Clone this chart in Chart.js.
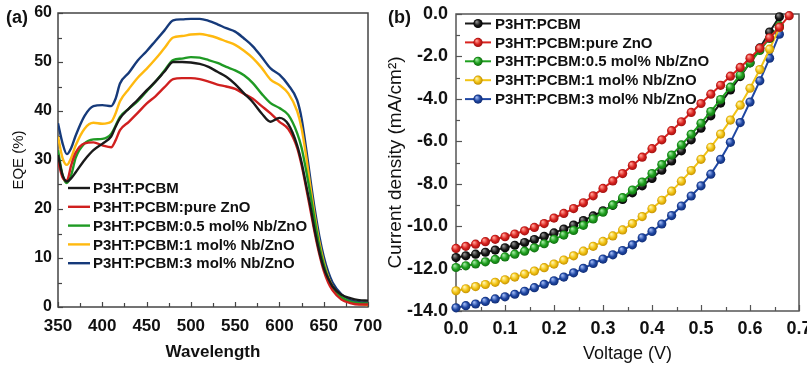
<!DOCTYPE html>
<html><head><meta charset="utf-8">
<script src="https://cdn.jsdelivr.net/npm/chart.js@4.4.1/dist/chart.umd.min.js"></script>
<style>
html,body{margin:0;padding:0;background:#fff;width:807px;height:367px;overflow:hidden;}
#wa{position:absolute;left:0;top:0;width:400px;height:367px;}
#wb{position:absolute;left:375px;top:0;width:432px;height:367px;}
.tag{position:absolute;font:bold 18px "Liberation Sans",Arial,sans-serif;color:#111;line-height:20px;}
</style></head><body>
<div id="wa"><canvas id="ca" width="400" height="367"></canvas></div>
<div id="wb"><canvas id="cb" width="432" height="367"></canvas></div>
<div class="tag" style="left:6px;top:7px">(a)</div>
<div class="tag" style="left:388px;top:7px">(b)</div>
<script>
// ---------- data ----------
const seriesLabels = ['P3HT:PCBM','P3HT:PCBM:pure ZnO','P3HT:PCBM:0.5 mol% Nb/ZnO','P3HT:PCBM:1 mol% Nb/ZnO','P3HT:PCBM:3 mol% Nb/ZnO'];

// (a) EQE vs wavelength
const wavelengths = [350,355,360,365,370,380,390,400,410,415,420,430,440,450,460,470,480,490,500,510,520,530,540,550,560,570,580,590,600,610,620,625,630,635,640,645,650,655,660,670,680,690,700];
const eqeRef  = [31.0,27.0,25.6,26.3,27.5,30.0,32.0,33.3,34.8,36.8,38.5,40.5,42.3,44.2,46.0,48.0,50.0,50.0,49.9,49.6,49.0,48.0,47.0,45.5,43.6,41.8,39.5,37.8,38.6,37.3,33.0,29.5,25.0,20.5,15.5,11.3,8.0,5.8,4.2,2.5,1.8,1.4,1.3];
const eqePure = [29.8,26.5,25.8,29.0,31.5,33.4,33.6,33.0,32.6,34.0,36.1,37.8,39.6,41.5,43.0,44.8,46.5,46.7,46.7,46.5,46.0,45.4,45.0,44.5,43.5,42.5,41.0,39.5,37.8,36.3,32.5,29.0,24.5,19.8,15.0,10.8,7.4,5.0,3.4,1.5,0.8,0.5,0.5];
const eqe05   = [32.0,27.0,25.3,27.0,30.5,33.4,34.2,34.3,35.3,37.0,38.8,40.5,42.0,44.0,46.0,48.2,50.4,50.7,51.0,50.9,50.4,49.8,49.0,48.3,47.3,45.7,43.5,41.6,40.6,39.2,35.5,32.5,28.0,23.0,17.5,12.5,8.7,5.9,4.0,2.0,1.1,0.8,0.7];
const eqe1    = [34.8,30.5,29.0,30.5,33.0,36.4,37.6,37.4,37.8,39.5,42.0,44.5,46.8,48.6,50.6,52.8,55.0,55.3,55.6,55.7,55.4,54.9,54.2,53.5,52.3,50.8,48.8,46.4,45.3,43.6,40.0,36.5,31.0,24.5,18.5,13.3,9.2,6.2,4.2,2.0,1.0,0.6,0.4];
const eqe3    = [37.5,33.5,31.2,32.5,35.0,39.0,41.0,41.2,41.0,42.5,45.6,47.8,50.3,52.2,54.3,56.4,58.5,58.7,58.8,58.8,58.4,57.7,56.9,56.2,54.8,53.2,51.0,48.7,47.4,45.3,42.2,38.5,32.5,26.0,19.8,14.5,10.3,7.2,5.0,2.6,1.4,1.0,0.9];
const eqeTicksX = [350,700,50];
const eqeTicksY = [0,60,10];

// (b) J-V curves
const voltages     = [0.00,0.02,0.04,0.06,0.08,0.10,0.12,0.14,0.16,0.18,0.20,0.22,0.24,0.26,0.28,0.30,0.32,0.34,0.36,0.38,0.40,0.42,0.44,0.46,0.48,0.50,0.52,0.54,0.56,0.58,0.60,0.62,0.64,0.66];
const voltagesPure = [0.00,0.02,0.04,0.06,0.08,0.10,0.12,0.14,0.16,0.18,0.20,0.22,0.24,0.26,0.28,0.30,0.32,0.34,0.36,0.38,0.40,0.42,0.44,0.46,0.48,0.50,0.52,0.54,0.56,0.58,0.60,0.62,0.64,0.66,0.68];
const jRef  = [-11.48,-11.40,-11.32,-11.23,-11.13,-11.02,-10.90,-10.77,-10.63,-10.48,-10.32,-10.14,-9.95,-9.74,-9.52,-9.28,-9.02,-8.74,-8.43,-8.10,-7.75,-7.36,-6.93,-6.45,-5.93,-5.38,-4.80,-4.20,-3.58,-2.95,-2.30,-1.60,-0.85,-0.13];
const jPure = [-11.05,-10.95,-10.85,-10.73,-10.62,-10.50,-10.37,-10.22,-10.06,-9.88,-9.62,-9.40,-9.17,-8.90,-8.57,-8.22,-7.87,-7.52,-7.14,-6.75,-6.35,-5.93,-5.50,-5.08,-4.64,-4.22,-3.78,-3.36,-2.93,-2.52,-2.08,-1.62,-1.12,-0.62,-0.08];
const j05   = [-11.95,-11.87,-11.78,-11.68,-11.57,-11.45,-11.32,-11.18,-11.02,-10.83,-10.62,-10.42,-10.20,-9.96,-9.66,-9.34,-9.00,-8.66,-8.30,-7.92,-7.52,-7.10,-6.65,-6.17,-5.67,-5.15,-4.60,-4.03,-3.45,-2.88,-2.30,-1.72,-1.15,-0.55];
const j1    = [-13.05,-12.95,-12.85,-12.75,-12.65,-12.53,-12.40,-12.26,-12.12,-11.96,-11.79,-11.60,-11.40,-11.18,-10.95,-10.72,-10.46,-10.18,-9.88,-9.55,-9.18,-8.78,-8.35,-7.88,-7.38,-6.85,-6.28,-5.66,-5.00,-4.30,-3.50,-2.62,-1.66,-0.64];
const j3    = [-13.85,-13.75,-13.67,-13.55,-13.43,-13.33,-13.21,-13.07,-12.90,-12.74,-12.58,-12.40,-12.20,-11.99,-11.76,-11.55,-11.35,-11.15,-10.88,-10.55,-10.25,-9.90,-9.50,-9.05,-8.58,-8.10,-7.55,-6.85,-6.05,-5.12,-4.15,-3.15,-2.08,-0.95];
const jvTicksX = [0,0.7,0.1];
const jvTicksY = [-14,0,2];

// ---------- styles ----------
const F = '"Liberation Sans", Arial, Helvetica, sans-serif';
Chart.defaults.font.family = F;
const colorsA = ['#1a1a1a','#d0201f','#1f9a24','#ffb90f','#163a7a'];
const colorsB = ['#1a1a1a','#d9231f','#1fa01f','#f2c414','#1f47a3'];
const lightB  = ['#8a8a8a','#ff9a90','#9ae69a','#fff2a8','#9ab4f0'];
const darkB   = ['#000000','#9a0f0f','#0f6a0f','#c08c00','#0f2a70'];

const frameTicks = {
  id: 'frameTicks',
  beforeDatasetsDraw(chart, args, o) {
    const ctx = chart.ctx, a = chart.chartArea;
    ctx.save();
    ctx.strokeStyle = o.color; ctx.lineWidth = o.width;
    ctx.strokeRect(a.left, a.top, a.right - a.left, a.bottom - a.top);
    const draw = (scale, horiz) => {
      const vals = scale.ticks.map(t => t.value);
      const mids = [];
      for (let i = 0; i < vals.length - 1; i++) mids.push((vals[i] + vals[i + 1]) / 2);
      const seg = (v, len) => {
        const p = Math.round(scale.getPixelForValue(v)) + 0.5;
        ctx.beginPath();
        if (horiz) { ctx.moveTo(p, a.bottom); ctx.lineTo(p, a.bottom - len); }
        else { ctx.moveTo(a.left, p); ctx.lineTo(a.left + len, p); }
        ctx.stroke();
      };
      vals.forEach(v => seg(v, o.major));
      mids.forEach(v => seg(v, o.minor));
    };
    ctx.lineWidth = o.tickWidth;
    draw(chart.scales.x, true);
    draw(chart.scales.y, false);
    ctx.restore();
  }
};

const innerLegend = {
  id: 'innerLegend',
  afterDatasetsDraw(chart, args, o) {
    const ctx = chart.ctx;
    ctx.save();
    ctx.font = o.font; ctx.textBaseline = 'middle';
    chart.data.datasets.forEach((ds, i) => {
      const y = o.y0 + i * o.step;
      const col = o.colors[i];
      ctx.strokeStyle = col; ctx.lineWidth = o.lineWidth;
      ctx.beginPath(); ctx.moveTo(o.x1, y); ctx.lineTo(o.x2, y); ctx.stroke();
      if (o.marker) {
        const cx = (o.x1 + o.x2) / 2;
        const g = ctx.createRadialGradient(cx - 1.5, y - 1.8, 0.5, cx, y, o.r);
        g.addColorStop(0, lightB[i]); g.addColorStop(0.55, col); g.addColorStop(1, darkB[i]);
        ctx.fillStyle = g; ctx.beginPath(); ctx.arc(cx, y, o.r, 0, Math.PI * 2); ctx.fill();
      }
      ctx.fillStyle = '#111';
      ctx.fillText(ds.label, o.textX, y + 1);
    });
    ctx.restore();
  }
};

const tickFont = (s) => ({family: F, size: s, weight: 'bold'});

// ---------- chart (a) ----------
const eqeSeries = [eqeRef, eqePure, eqe05, eqe1, eqe3];
new Chart(document.getElementById('ca'), {
  type: 'line',
  data: {
    datasets: eqeSeries.map((s, i) => ({
      label: seriesLabels[i],
      data: wavelengths.map((w, k) => ({x: w, y: s[k]})),
      borderColor: colorsA[i], borderWidth: 2.4, pointRadius: 0,
      cubicInterpolationMode: 'monotone', fill: false
    }))
  },
  options: {
    responsive: false, animation: false, events: [],
    layout: {padding: {left: 0, top: 13, right: 32, bottom: 0}},
    scales: {
      x: {
        type: 'linear', min: eqeTicksX[0], max: eqeTicksX[1],
        ticks: {stepSize: eqeTicksX[2], padding: 9, color: '#111', font: tickFont(17), maxRotation: 0, autoSkip: false},
        grid: {display: false, drawTicks: false}, border: {display: false},
        title: {display: true, text: 'Wavelength', color: '#111', font: {family: F, size: 17, weight: 'bold'}, padding: {top: 0, bottom: 4}},
        afterFit: s => { s.height = 60; s.paddingLeft = 0; s.paddingRight = 0; }
      },
      y: {
        type: 'linear', min: eqeTicksY[0], max: eqeTicksY[1],
        ticks: {stepSize: eqeTicksY[2], padding: 6, color: '#111', font: tickFont(16)},
        grid: {display: false, drawTicks: false}, border: {display: false},
        title: {display: true, text: 'EQE (%)', color: '#111', font: {family: F, size: 15}, padding: {top: 10, bottom: 0}},
        afterFit: s => { s.width = 58; s.paddingTop = 0; s.paddingBottom = 0; }
      }
    },
    plugins: {
      legend: {display: false}, tooltip: {enabled: false},
      frameTicks: {color: '#444', width: 1.5, tickWidth: 1.2, major: 5, minor: 4},
      innerLegend: {font: 'bold 15px ' + F, x1: 68, x2: 90, textX: 93, y0: 188, step: 18.8, lineWidth: 2.4, marker: false, colors: colorsA}
    }
  },
  plugins: [frameTicks, innerLegend]
});

// ---------- chart (b) ----------
const jvSeries = [jRef, jPure, j05, j1, j3];
const jvX = [voltages, voltagesPure, voltages, voltages, voltages];
new Chart(document.getElementById('cb'), {
  type: 'line',
  data: {
    datasets: jvSeries.map((s, i) => ({
      label: seriesLabels[i],
      data: jvX[i].map((v, k) => ({x: v, y: s[k]})),
      borderColor: colorsB[i], borderWidth: 2, tension: 0,
      pointRadius: 4.6, pointBorderWidth: 0,
      pointBackgroundColor: (c) => {
        if (c.type !== 'data' || !c.parsed) return colorsB[i];
        const ch = c.chart;
        const px = ch.scales.x.getPixelForValue(c.parsed.x);
        const py = ch.scales.y.getPixelForValue(c.parsed.y);
        if (!isFinite(px) || !isFinite(py)) return colorsB[i];
        const g = ch.ctx.createRadialGradient(px - 1.5, py - 1.8, 0.5, px, py, 4.8);
        g.addColorStop(0, lightB[i]); g.addColorStop(0.55, colorsB[i]); g.addColorStop(1, darkB[i]);
        return g;
      },
      clip: false, fill: false, order: i === 0 ? 1 : 0
    }))
  },
  options: {
    responsive: false, animation: false, events: [],
    layout: {padding: {left: 0, top: 14, right: 8, bottom: 0}},
    scales: {
      x: {
        type: 'linear', min: jvTicksX[0], max: jvTicksX[1],
        ticks: {stepSize: jvTicksX[2], padding: 7, color: '#111', font: tickFont(18), maxRotation: 0, autoSkip: false,
                callback: v => Number(v).toFixed(1)},
        grid: {display: false, drawTicks: false}, border: {display: false},
        title: {display: true, text: 'Voltage (V)', color: '#111', font: {family: F, size: 18}, padding: {top: 0, bottom: 2}},
        afterFit: s => { s.height = 56; s.paddingLeft = 0; s.paddingRight = 0; }
      },
      y: {
        type: 'linear', min: jvTicksY[0], max: jvTicksY[1],
        ticks: {stepSize: jvTicksY[2], padding: 8, color: '#111', font: tickFont(18),
                callback: v => Number(v).toFixed(1)},
        grid: {display: false, drawTicks: false}, border: {display: false},
        title: {display: true, text: 'Current density (mA/cm²)', color: '#111', font: {family: F, size: 19}, padding: {top: 9, bottom: 0}},
        afterFit: s => { s.width = 81; s.paddingTop = 0; s.paddingBottom = 0; }
      }
    },
    plugins: {
      legend: {display: false}, tooltip: {enabled: false},
      frameTicks: {color: '#555', width: 1.5, tickWidth: 1.2, major: 6, minor: 4},
      innerLegend: {font: 'bold 15px ' + F, x1: 90, x2: 116, textX: 120, y0: 23.5, step: 18.9, lineWidth: 2, marker: true, r: 4.6, colors: colorsB}
    }
  },
  plugins: [frameTicks, innerLegend]
});
</script>
</body></html>
